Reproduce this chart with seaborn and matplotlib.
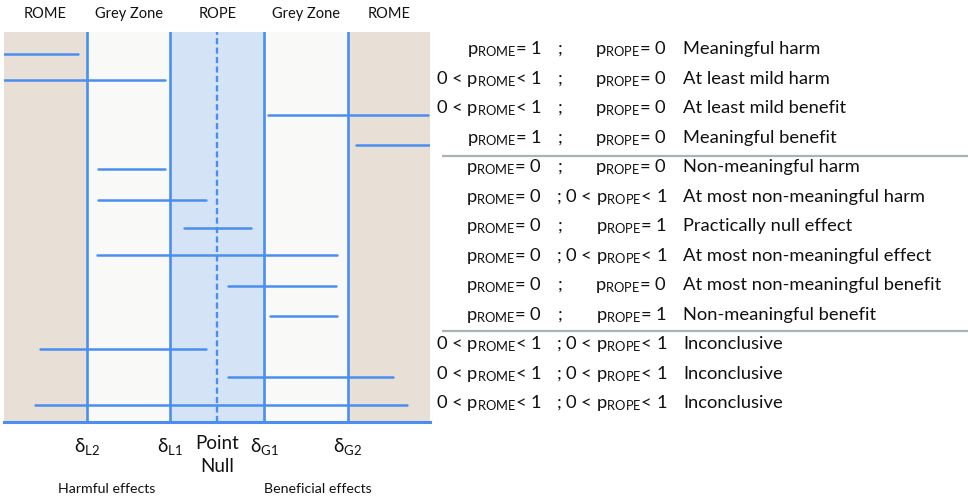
import numpy as np
import pandas as pd
import matplotlib
matplotlib.use("Agg")
import matplotlib.pyplot as plt
import matplotlib.transforms as mtransforms
import seaborn as sns

# zone limits on the effect scale (point null at 0)
delta_l2, delta_l1 = -2.77, -1.0
delta_g1, delta_g2 = 1.0, 2.77
x_min, x_max = -4.53, 4.52

# credible intervals, one per row from top to bottom
row_pos = [1.17, 2.05, 3.24, 4.25, 5.07, 6.12, 7.07, 7.98, 9.03, 10.05, 11.17, 12.12, 13.07]
ci_low = [-4.53, -4.53, 1.07, 2.95, -2.54, -2.54, -0.71, -2.56, 0.22, 1.12, -3.76, 0.22, -3.88]
ci_high = [-2.95, -1.12, 4.48, 4.52, -1.12, -0.24, 0.71, 2.54, 2.52, 2.54, -0.24, 3.73, 4.03]

# '=1', '=0' or '<1' (meaning 0 < p < 1)
p_rome = ["=1", "<1", "<1", "=1", "=0", "=0", "=0", "=0", "=0", "=0", "<1", "<1", "<1"]
p_rope = ["=0", "=0", "=0", "=0", "=0", "<1", "=1", "<1", "=0", "=1", "<1", "<1", "<1"]
conclusions = [
    "Meaningful harm", "At least mild harm", "At least mild benefit",
    "Meaningful benefit", "Non-meaningful harm", "At most non-meaningful harm",
    "Practically null effect", "At most non-meaningful effect",
    "At most non-meaningful benefit", "Non-meaningful benefit",
    "Inconclusive", "Inconclusive", "Inconclusive",
]
zone_names = ["ROME", "Grey Zone", "ROPE", "Grey Zone", "ROME"]
group_breaks = [4.62, 10.56]

sns.set_theme(style="white")
plt.rcParams["font.family"] = ["Lato", "DejaVu Sans"]
plt.rcParams["mathtext.default"] = "regular"

blue = "#4a8ff0"
tan = "#e8dfd7"
grey = "#f9f9f8"
rope_blue = "#d5e3f7"
ink = "#111111"

fig = plt.figure(figsize=(9.68, 5.0), dpi=100)
ax = fig.add_axes([4 / 968, 78 / 500, 426 / 968, 390 / 500])
ax2 = fig.add_axes([430 / 968, 78 / 500, 538 / 968, 390 / 500])

# zone shading
edges = [x_min, delta_l2, delta_l1, delta_g1, delta_g2, x_max]
fills = [tan, grey, rope_blue, grey, tan]
for lo, hi, c in zip(edges[:-1], edges[1:], fills):
    ax.axvspan(lo, hi, color=c, lw=0, zorder=0)
for d in [delta_l2, delta_l1, delta_g1, delta_g2]:
    ax.axvline(d, color=blue, lw=1.9, zorder=2)
ax.axvline(0, color=blue, lw=1.7, dashes=(2.6, 1.4), zorder=2)

# intervals
rows = np.arange(1, len(row_pos) + 1)
df = pd.DataFrame({
    "row": np.repeat(rows, 2),
    "y": np.repeat(row_pos, 2),
    "effect": np.ravel(np.column_stack([ci_low, ci_high])),
})
sns.lineplot(data=df, x="effect", y="y", units="row", estimator=None,
             sort=False, color=blue, lw=1.8, ax=ax, zorder=3, legend=False)

ax.set_xlim(x_min, x_max)
ax.set_ylim(13.64, 0.42)
ax.set_xticks([])
ax.set_yticks([])
ax.set_xlabel("")
ax.set_ylabel("")
for s in ["top", "left", "right"]:
    ax.spines[s].set_visible(False)
ax.spines["bottom"].set_color(blue)
ax.spines["bottom"].set_linewidth(2.2)

trans = mtransforms.blended_transform_factory(ax.transData, ax.transAxes)
mids = [(a + b) / 2 for a, b in zip(edges[:-1], edges[1:])]
for m, name in zip(mids, zone_names):
    ax.text(m, 1.047, name, transform=trans, ha="center", va="center",
            fontsize=10.5, color=ink)

for d, lab in zip([delta_l2, delta_l1, delta_g1, delta_g2],
                  ["L2", "L1", "G1", "G2"]):
    ax.text(d, -0.062, "δ$_{%s}$" % lab, transform=trans, ha="center",
            va="center", fontsize=13.5, color=ink)
ax.text(0, -0.034, "Point\nNull", transform=trans, ha="center", va="top",
        fontsize=13.5, color=ink, linespacing=1.4)
ax.text(-2.35, -0.172, "Harmful effects", transform=trans, ha="center",
        va="center", fontsize=10.2, color=ink)
ax.text(2.14, -0.172, "Beneficial effects", transform=trans, ha="center",
        va="center", fontsize=10.2, color=ink)

# right-hand table
ax2.set_xlim(430, 968)
ax2.set_ylim(13.64, 0.42)
ax2.axis("off")
fs = 13.2
for r, a, b, c in zip(rows, p_rome, p_rope, conclusions):
    if a == "<1":
        s1 = "0 < p$_{ROME}$< 1"
    else:
        s1 = "p$_{ROME}$= %s" % a[1]
    ax2.text(542, r, s1, ha="right", va="center", fontsize=fs, color=ink)
    if b == "<1":
        ax2.text(667, r, "; 0 < p$_{ROPE}$< 1", ha="right", va="center",
                 fontsize=fs, color=ink)
    else:
        ax2.text(558, r, ";", ha="left", va="center", fontsize=fs, color=ink)
        ax2.text(667, r, "p$_{ROPE}$= %s" % b[1], ha="right", va="center",
                 fontsize=fs, color=ink)
    ax2.text(683, r, c, ha="left", va="center", fontsize=fs, color=ink)
ax2.hlines(group_breaks, 442, 968, color="#a9b3b3", lw=1.6)

fig.savefig("out.png", dpi=100)
